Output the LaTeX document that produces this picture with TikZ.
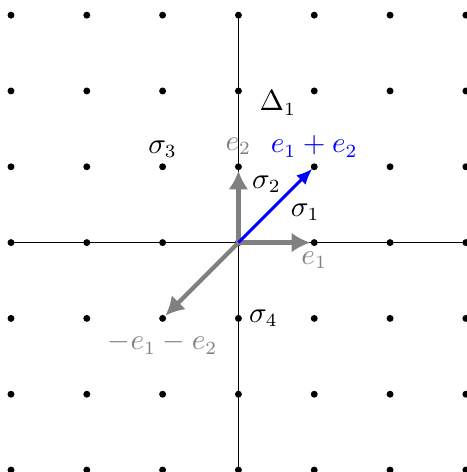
\documentclass[tikz,border=0pt]{standalone}
\usetikzlibrary{arrows.meta}

\begin{document}
\begin{tikzpicture}[
  x = 1cm, y = 1cm,
  font = \fontsize{10.5}{12}\selectfont,
  gen/.style  = {gray, line width=1.6pt, -{Latex[length=7pt,width=7.5pt]}, shorten >=1.5pt},
  diag/.style = {blue, line width=1.1pt, -{Latex[length=6pt,width=5pt]}, shorten >=1pt},
  lab/.style  = {inner sep=1pt}
]
  \useasboundingbox (-3.145,-3.026) rectangle (3.013,3.2);
  \def\N{3}

  % 축
  \coordinate (O) at (0,0);
  \coordinate (xl) at (-\N,0); \coordinate (xr) at (\N,0);
  \coordinate (yb) at (0,-\N); \coordinate (yt) at (0,\N);
  \draw[semithick] (xl) -- (xr);
  \draw[semithick] (yb) -- (yt);

  % 격자점
  \foreach \i in {-3,...,3}
    \foreach \j in {-3,...,3}
      \fill (\i,\j) circle (1.3pt);

  % 생성원
  \coordinate (e1) at (1,0);
  \coordinate (e2) at (0,1);
  \coordinate (e12) at (1,1);
  \coordinate (me12) at (-1,-1);
  \draw[gen] (O) -- (e1);
  \draw[gen] (O) -- (e2);
  \draw[gen] (O) -- (me12);
  \draw[diag] (O) -- (e12);

  % 이름표
  \node[lab, gray, below] (le1) at (1.0,-0.08) {$e_1$};
  \node[lab, gray] (le2) at (0,1.27) {$e_2$};
  \node[lab, blue] (le12) at (1.0,1.27) {$e_1+e_2$};
  \node[lab, gray] (lme12) at (-1.0,-1.33) {$-e_1-e_2$};
  \node[lab] (s1) at (0.88,0.4) {$\sigma_1$};
  \node[lab] (s2) at (0.37,0.77) {$\sigma_2$};
  \node[lab] (s3) at (-1.0,1.23) {$\sigma_3$};
  \node[lab] (s4) at (0.33,-1.0) {$\sigma_4$};
  \node[lab] (d1) at (0.52,1.84) {$\Delta_1$};
\end{tikzpicture}
\end{document}
